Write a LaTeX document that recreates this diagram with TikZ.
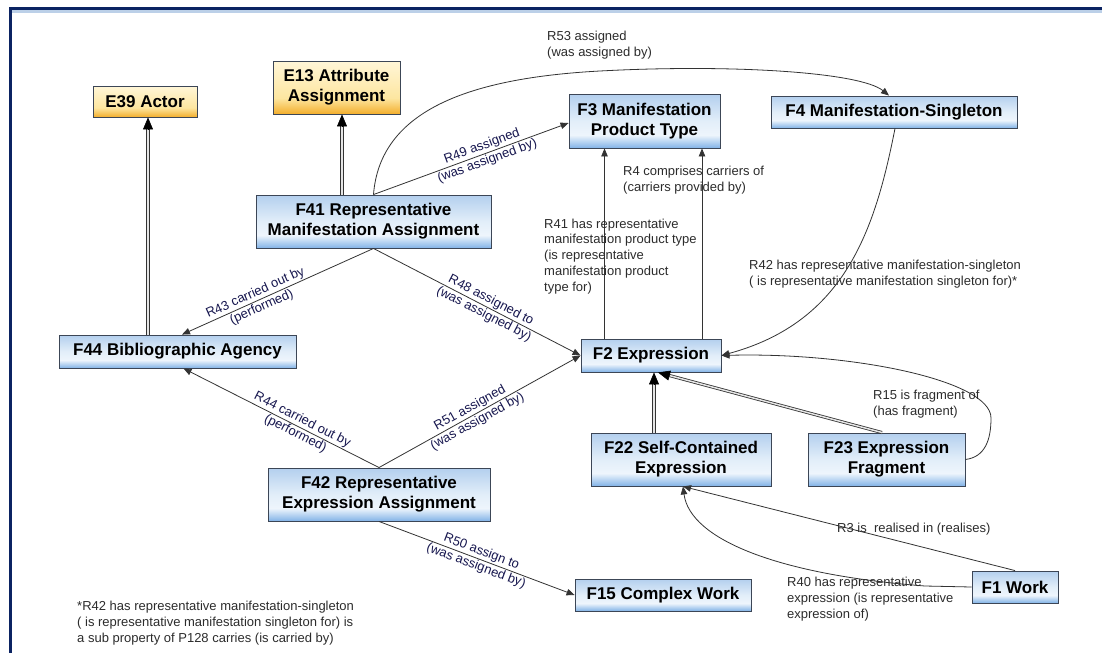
\documentclass[tikz,border=0pt]{standalone}
\usepackage{fontspec}
\setmainfont{Liberation Sans}
\usetikzlibrary{arrows.meta,calc}
\definecolor{frameblue}{HTML}{0B2362}
\definecolor{framelight}{HTML}{BCD0E8}
\definecolor{navytext}{HTML}{17174F}
\definecolor{labeltext}{HTML}{2C2C2C}
\definecolor{edgecol}{HTML}{333333}
\definecolor{boxline}{HTML}{3C4656}
\definecolor{bluetop}{HTML}{B3CFEE}
\definecolor{bluemid}{HTML}{EEF5FC}
\definecolor{bluemidb}{HTML}{E2EEF9}
\definecolor{bluebot}{HTML}{82B3E7}
\definecolor{orangetop}{HTML}{FFF6D8}
\definecolor{orangemid}{HTML}{FDE6A0}
\definecolor{orangebot}{HTML}{F3AE2C}
\pgfdeclareverticalshading{boxblue}{100bp}{color(0bp)=(bluebot); color(25bp)=(bluebot); color(37bp)=(bluemid); color(50bp)=(bluemidb); color(75bp)=(bluetop); color(100bp)=(bluetop)}
\pgfdeclareverticalshading{boxorange}{100bp}{color(0bp)=(orangebot); color(25bp)=(orangebot); color(40bp)=(orangemid); color(75bp)=(orangetop); color(100bp)=(orangetop)}
\newcommand\genarrow[2]{%
  \draw[genline, shorten >=10pt] (#1) -- (#2);
  \draw[-{Triangle[length=12pt,width=10pt]}, line width=0.6pt, black] ($(#2)!12pt!(#1)$) -- (#2);}
\begin{document}
\begin{tikzpicture}[x=1pt,y=-1pt,
  bluebox/.style={draw=boxline, line width=0.9pt, shade, shading=boxblue,
    font=\fontsize{17}{20}\selectfont\bfseries, align=center, inner sep=0pt, text=black},
  orangebox/.style={bluebox, shading=boxorange},
  conn/.style={draw=edgecol, line width=0.8pt, -{Triangle[length=8pt,width=6.5pt]}},
  genline/.style={draw=edgecol, line width=0.8pt, double=white!80!gray, double distance=1.5pt},
  hlabel/.style={font=\fontsize{13}{15.7}\selectfont, text=labeltext, align=left, inner sep=0pt},
  rlabel/.style={font=\fontsize{13}{15.5}\selectfont, text=navytext, align=center, inner sep=0pt, sloped}]
\useasboundingbox (0,0) rectangle (1102,653);
\fill[white] (0,0) rectangle (1102,653);
% frame
\fill[frameblue] (9,7) rectangle (1102,9.5);
\fill[frameblue] (9,7) rectangle (11.5,653);
\fill[framelight] (11.5,10) rectangle (1102,12.5);
% nodes
\node[orangebox, minimum width=104pt, minimum height=31pt] (E39) at (145,101.5) {E39 Actor};
\node[orangebox, minimum width=127pt, minimum height=53pt] (E13) at (336.5,87.5) {E13 Attribute\\Assignment};
\node[bluebox, minimum width=235pt, minimum height=53pt] (F41) at (373.5,221.5) {F41 Representative\\Manifestation Assignment};
\node[bluebox, minimum width=151pt, minimum height=54pt] (F3) at (644.5,121) {F3 Manifestation\\Product Type};
\node[bluebox, minimum width=246pt, minimum height=32pt] (F4) at (894,112) {F4 Manifestation-Singleton};
\node[bluebox, minimum width=237pt, minimum height=33pt] (F44) at (177.5,351.5) {F44 Bibliographic Agency};
\node[bluebox, minimum width=140pt, minimum height=33pt] (F2) at (651,355.5) {F2 Expression};
\node[bluebox, minimum width=222pt, minimum height=53pt] (F42) at (379,494.5) {F42 Representative\\Expression Assignment};
\node[bluebox, minimum width=180pt, minimum height=53pt] (F22) at (681,459.5) {F22 Self-Contained\\Expression};
\node[bluebox, minimum width=157pt, minimum height=53pt] (F23) at (886.5,459.5) {F23 Expression\\Fragment};
\node[bluebox, minimum width=176pt, minimum height=32pt] (F15) at (663,595) {F15 Complex Work};
\node[bluebox, minimum width=86pt, minimum height=32pt] (F1) at (1015,587) {F1 Work};
% generalisation arrows
\coordinate (g1a) at ([xshift=3pt]E39.south);
\coordinate (g1b) at (g1a |- F44.north);
\coordinate (g2a) at ([xshift=5.5pt]E13.south);
\coordinate (g2b) at (g2a |- F41.north);
\coordinate (g3a) at ([xshift=3pt]F2.south);
\coordinate (g3b) at (g3a |- F22.north);
\coordinate (g4a) at ([xshift=7pt]F2.south);
\coordinate (g4b) at ([xshift=-4.5pt]F23.north);
\genarrow{g1b}{g1a}
\genarrow{g2b}{g2a}
\genarrow{g3b}{g3a}
\genarrow{g4b}{g4a}
% properties
\draw[conn] (F41.north) .. controls (380,110) and (470,78) .. (600,71) .. controls (730,64) and (860,72) .. ([xshift=-5pt]F4.north);
\draw[conn] (F41.north) -- node[rlabel, pos=0.57] {R49 assigned\\(was assigned by)} ([yshift=-2pt]F3.west);
\draw[conn] (F41.south) -- node[rlabel, pos=0.6] {R43 carried out by\\(performed)} ([xshift=4.5pt]F44.north);
\draw[conn] (F41.south) -- node[rlabel, pos=0.55] {R48 assigned to\\(was assigned by)} (F2.west);
\draw[conn] (F42.north) -- node[rlabel, pos=0.41] {R44 carried out by\\(performed)} ([xshift=6pt]F44.south);
\draw[conn] (F42.north) -- node[rlabel, pos=0.47] {R51 assigned\\(was assigned by)} (F2.west);
\draw[conn] (F42.south) -- node[rlabel, pos=0.51] {R50 assign to\\(was assigned by)} (F15.west);
\coordinate (r41a) at ([xshift=-46.5pt]F2.north);
\coordinate (r4a) at ([xshift=51pt]F2.north);
\draw[conn] (r41a) -- (r41a |- F3.south);
\draw[conn] (r4a) -- (r4a |- F3.south);
\draw[conn] ([xshift=1pt]F4.south) .. controls (875,230) and (845,322) .. (F2.east);
\draw[conn] (F23.east) .. controls (985,457) and (991,440) .. (991,418) .. controls (991,380) and (850,352) .. (F2.east);
\draw[conn] (F1.north) -- ([xshift=2pt]F22.south);
\draw[conn] (F1.west) -- (925,586) .. controls (780,575) and (690,540) .. ([xshift=2pt]F22.south);
% horizontal labels (anchored at the baseline of their last line)
\node[hlabel, anchor=base west] (l53) at (547,56) {R53 assigned\\(was assigned by)};
\node[hlabel, anchor=base west] (l4) at (623,191) {R4 comprises carriers of\\(carriers provided by)};
\node[hlabel, anchor=base west] (l41) at (544,291) {R41 has representative\\manifestation product type\\(is representative\\manifestation product\\type for)};
\node[hlabel, anchor=base west] (l42) at (749,285) {R42 has representative manifestation-singleton\\( is representative manifestation singleton for)*};
\node[hlabel, anchor=base west] (l15) at (873,415) {R15 is fragment of\\(has fragment)};
\node[hlabel, anchor=base west] (l3) at (837,532) {R3 is\ \ realised in (realises)};
\node[hlabel, anchor=base west] (l40) at (787,618) {R40 has representative\\expression (is representative\\expression of)};
\node[hlabel, anchor=base west] (fn) at (77,642) {*R42 has representative manifestation-singleton\\( is representative manifestation singleton for) is\\a sub property of P128 carries (is carried by)};
\end{tikzpicture}
\end{document}
